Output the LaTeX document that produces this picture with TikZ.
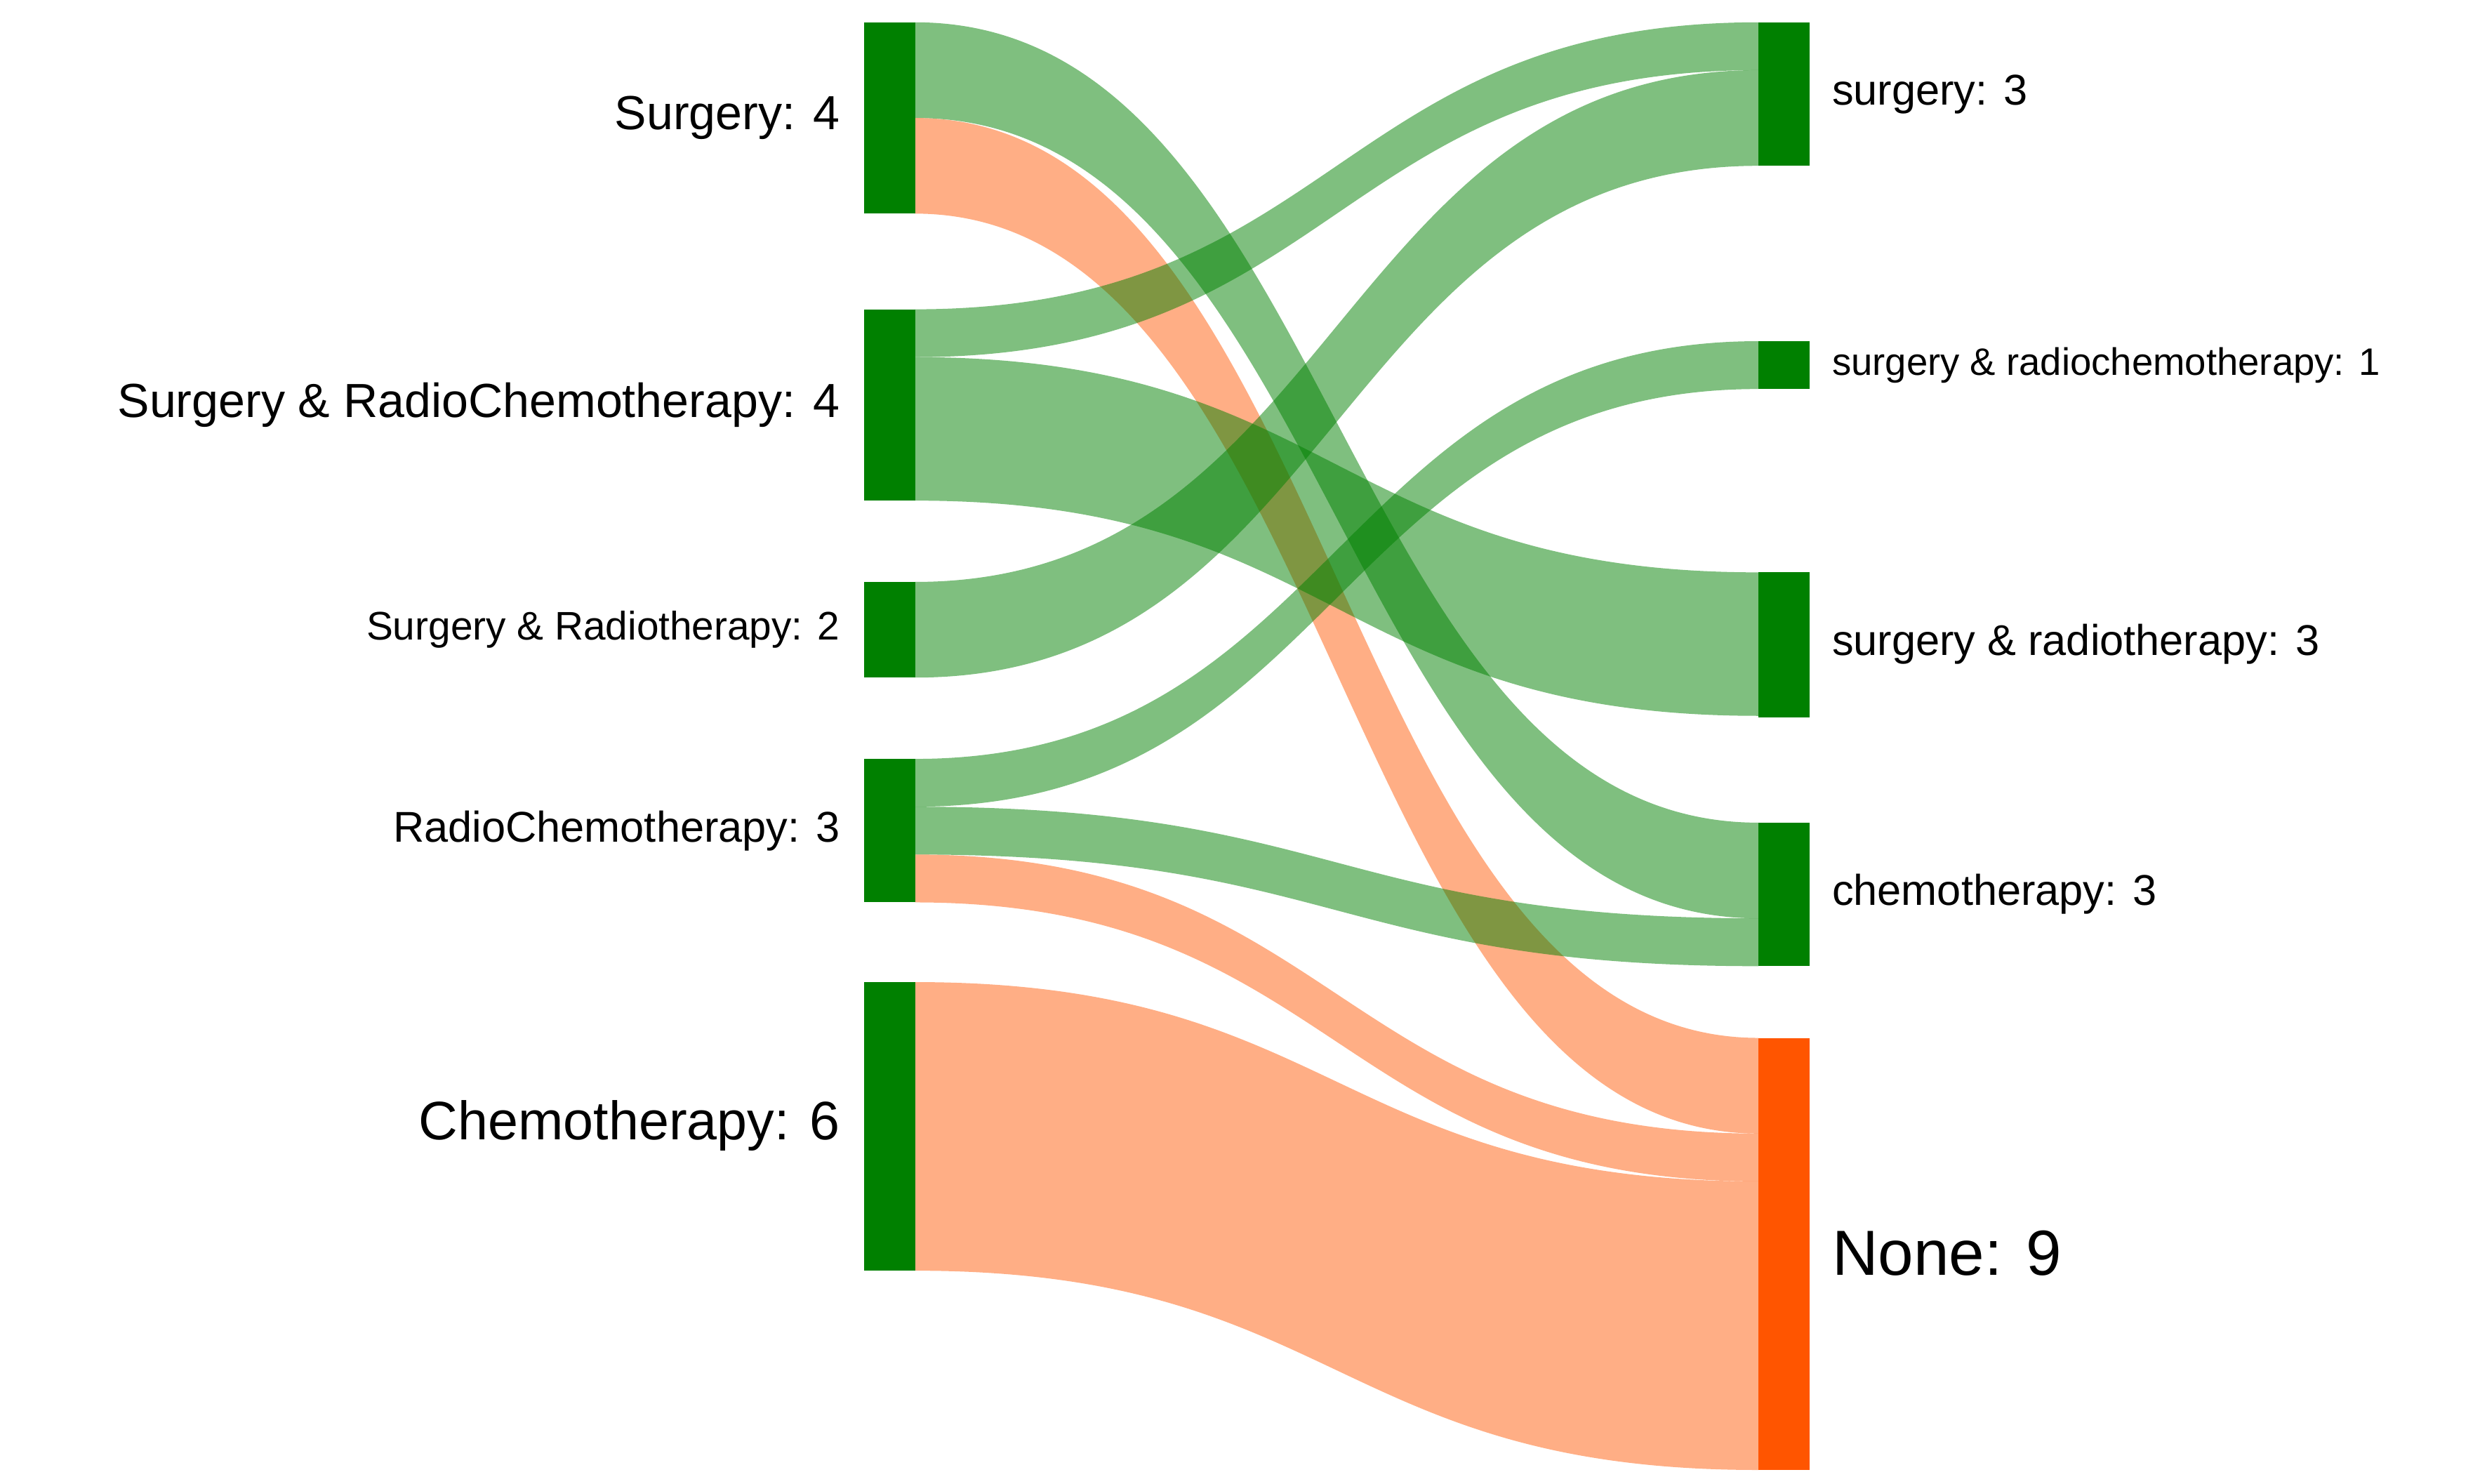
\documentclass[tikz,border=0pt]{standalone}
\usepackage{fontspec}
\setmainfont{Liberation Sans}
\definecolor{gr}{RGB}{0,128,0}
\definecolor{og}{RGB}{255,85,0}
\tikzset{
  bar/.style={draw=none,fill=gr},
  gl/.style={fill=gr,fill opacity=0.5,draw=none},
  ol/.style={fill=og,fill opacity=0.48,draw=none},
  ll/.style={anchor=east,inner sep=0pt},
  rl/.style={anchor=west,inner sep=0pt}
}
% ribbon: style, left top, left bottom, right top, right bottom
\newcommand\myrib[5]{\path[#1] (574,#2) .. controls (838.5,#2) and (838.5,#4) .. (1103,#4) -- (1103,#5) .. controls (838.5,#5) and (838.5,#3) .. (574,#3) -- cycle;}
\begin{document}
\begin{tikzpicture}[x=1pt,y=-1pt]
\useasboundingbox (0,0) rectangle (1560,930.4);
% links
\myrib{gl}{14}{74}{516}{576}
\myrib{ol}{74}{134}{651}{711}
\myrib{gl}{194}{224}{14}{44}
\myrib{gl}{224}{314}{359}{449}
\myrib{gl}{365}{425}{44}{104}
\myrib{gl}{476}{506}{214}{244}
\myrib{gl}{506}{536}{576}{606}
\myrib{ol}{536}{566}{711}{741}
\myrib{ol}{616}{797}{741}{922}
% left nodes
\fill[bar] (542,14) rectangle (574,134) coordinate (s4);
\fill[bar] (542,194) rectangle (574,314);
\fill[bar] (542,365) rectangle (574,425);
\fill[bar] (542,476) rectangle (574,566);
\fill[bar] (542,616) rectangle (574,797);
% right nodes
\fill[bar] (1103,14) rectangle (1135,104);
\fill[bar] (1103,214) rectangle (1135,244);
\fill[bar] (1103,359) rectangle (1135,450);
\fill[bar] (1103,516) rectangle (1135,606);
\fill[og] (1103,651) rectangle (1135,922);
% labels
\node[ll,font=\fontsize{30}{36}\selectfont] (a) at (527,74) {Surgery: 4};
\node[ll,font=\fontsize{30}{36}\selectfont] (b) at (527,254) {Surgery \& RadioChemotherapy: 4};
\node[ll,font=\fontsize{25}{30}\selectfont] (c) at (527,395) {Surgery \& Radiotherapy: 2};
\node[ll,font=\fontsize{27}{32}\selectfont] (d) at (527,521) {RadioChemotherapy: 3};
\node[ll,font=\fontsize{34}{40}\selectfont] (e) at (527,706) {Chemotherapy: 6};
\node[rl,font=\fontsize{27}{32}\selectfont] (f) at (1149,59) {surgery: 3};
\node[rl,font=\fontsize{24}{29}\selectfont] (g) at (1149,229) {surgery \& radiochemotherapy: 1};
\node[rl,font=\fontsize{27}{32}\selectfont] (h) at (1149,404) {surgery \& radiotherapy: 3};
\node[rl,font=\fontsize{27}{32}\selectfont] (i) at (1149,561) {chemotherapy: 3};
\node[rl,font=\fontsize{40}{48}\selectfont] (j) at (1149,786) {None: 9};
\end{tikzpicture}
\end{document}
